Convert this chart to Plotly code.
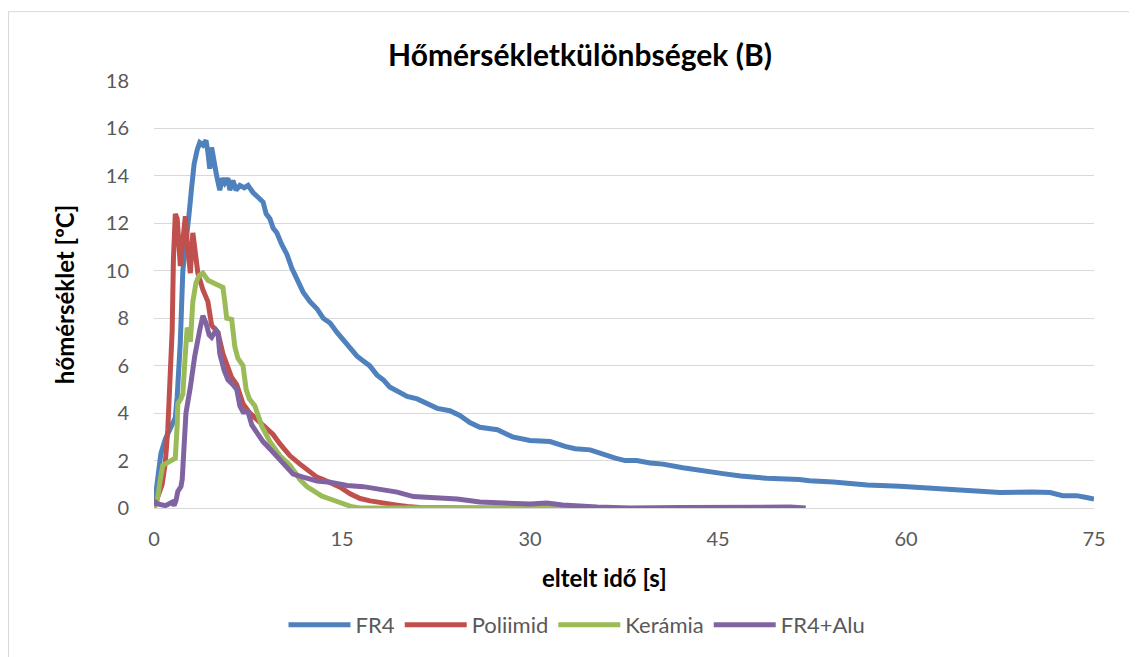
import plotly.graph_objects as go

# ---- data ----
fr4_t = [0, 0.3, 0.55, 0.9, 1.3, 1.7, 1.85, 2.1, 2.3, 2.55, 2.8, 3.0, 3.2, 3.45, 3.65, 3.9, 4.15, 4.3, 4.45, 4.6,
         4.8, 5.0, 5.25, 5.45, 5.65, 5.9, 6.05, 6.3, 6.55, 6.85, 7.2, 7.5, 7.9, 8.3, 8.7, 8.95, 9.25, 9.5, 9.8, 10.2,
         10.6, 11.0, 11.4, 11.9, 12.45, 13.0, 13.5, 14.05, 14.6, 15.1, 15.65, 16.2, 16.7, 17.2, 17.8, 18.3, 18.8,
         19.6, 20.2, 21.0, 21.8, 22.6, 23.6, 24.4, 25.2, 26.0, 27.4, 28.0, 28.6, 30.0, 31.6, 32.8, 33.6, 34.8, 35.8,
         36.8, 37.6, 38.5, 39.6, 40.6, 42.2, 43.8, 45.4, 46.8, 48.9, 51.5, 52.3, 54.2, 56.9, 59.5, 62.2, 64.9, 67.5,
         70.1, 71.5, 72.5, 73.6, 74.3, 75.0]
fr4_v = [0, 1.2, 2.3, 2.9, 3.3, 3.8, 4.7, 7.0, 10.0, 11.5, 12.4, 13.5, 14.5, 15.1, 15.4, 15.3, 15.5, 15.0, 14.3, 15.2,
         14.5, 14.0, 13.4, 13.9, 13.7, 13.9, 13.4, 13.8, 13.4, 13.6, 13.5, 13.6, 13.3, 13.1, 12.9, 12.4, 12.2, 11.8,
         11.6, 11.1, 10.7, 10.1, 9.7, 9.1, 8.7, 8.4, 8.0, 7.8, 7.4, 7.1, 6.7, 6.4, 6.2, 6.0, 5.6, 5.4, 5.1, 4.9, 4.7,
         4.6, 4.4, 4.2, 4.1, 3.9, 3.6, 3.4, 3.3, 3.15, 3.0, 2.85, 2.8, 2.6, 2.5, 2.45, 2.25, 2.1, 2.0, 2.0, 1.9,
         1.85, 1.7, 1.6, 1.45, 1.35, 1.25, 1.2, 1.15, 1.1, 0.97, 0.92, 0.84, 0.75, 0.65, 0.67, 0.65, 0.52, 0.52,
         0.45, 0.38]

poli_t = [0, 0.25, 0.65, 0.9, 1.1, 1.3, 1.45, 1.55, 1.7, 1.85, 2.1, 2.25, 2.5, 2.65, 2.9, 3.1, 3.25, 3.5, 3.9, 4.3,
          4.6, 5.1, 5.5, 5.8, 6.2, 6.6, 7.1, 7.65, 8.15, 8.7, 9.5, 10.05, 10.85, 11.65, 12.2, 13.0, 13.5, 14.3,
          14.85, 15.65, 16.45, 17.25, 18.45, 19.4, 20.2, 21.2, 25.0, 30.0, 33.0]
poli_v = [0.2, 0.4, 1.0, 1.9, 3.3, 5.5, 7.5, 10.5, 12.4, 12.2, 10.2, 11.0, 12.3, 11.2, 9.9, 11.6, 11.0, 9.9, 9.2, 8.7,
          7.7, 7.4, 6.5, 6.1, 5.5, 5.2, 4.4, 4.0, 3.75, 3.5, 3.1, 2.7, 2.2, 1.85, 1.6, 1.3, 1.2, 1.0, 0.88, 0.6, 0.4,
          0.3, 0.18, 0.12, 0.06, 0.02, 0.0, 0.01, 0.0]

ker_t = [0, 0.25, 0.5, 0.7, 1.05, 1.35, 1.7, 1.85, 1.9, 2.15, 2.3, 2.5, 2.65, 2.8, 2.9, 3.1, 3.35, 3.6, 3.9, 4.3, 4.7,
         5.1, 5.5, 5.65, 5.8, 6.2, 6.45, 6.7, 7.1, 7.35, 7.6, 8.05, 8.6, 9.25, 10.05, 10.85, 11.65, 12.2, 12.7, 13.4,
         14.05, 15.1, 15.8, 16.45, 20.0, 25.0, 30.0, 33.0, 36.0]
ker_v = [0, 0.3, 1.2, 1.8, 1.9, 2.0, 2.1, 3.5, 4.4, 4.6, 4.8, 6.5, 7.6, 7.4, 7.0, 8.7, 9.5, 9.8, 9.9, 9.6, 9.5, 9.35,
         9.3, 8.7, 8.0, 7.95, 6.8, 6.3, 6.0, 5.0, 4.6, 4.3, 3.45, 2.8, 2.2, 1.8, 1.2, 0.9, 0.72, 0.5, 0.38, 0.17,
         0.05, 0.0, 0.0, 0.02, 0.03, 0.01, 0.0]

alu_t = [0, 0.1, 0.3, 0.65, 0.9, 1.1, 1.45, 1.6, 1.75, 1.9, 2.15, 2.25, 2.4, 2.55, 2.9, 3.25, 3.65, 3.9, 4.15, 4.4,
         4.6, 4.95, 5.1, 5.25, 5.6, 5.9, 6.3, 6.6, 6.85, 7.1, 7.5, 7.8, 8.05, 8.7, 9.5, 10.3, 11.1, 11.9, 13.0, 14.05,
         15.4, 16.7, 18.0, 19.4, 20.7, 22.0, 24.2, 26.0, 27.4, 28.65, 30.0, 31.35, 32.6, 35.35, 38.0, 42.0, 46.75,
         49.4, 50.75, 52.0]
alu_v = [0.1, 0.25, 0.17, 0.1, 0.1, 0.15, 0.25, 0.1, 0.3, 0.7, 0.9, 1.2, 2.8, 4.0, 5.1, 6.4, 7.5, 8.1, 7.8, 7.3, 7.2,
         7.5, 7.4, 6.5, 5.8, 5.4, 5.2, 5.0, 4.3, 4.05, 4.05, 3.5, 3.3, 2.8, 2.35, 1.85, 1.43, 1.3, 1.14, 1.09, 0.95,
         0.9, 0.8, 0.67, 0.48, 0.46, 0.38, 0.25, 0.22, 0.18, 0.17, 0.21, 0.13, 0.04, 0.0, 0.02, 0.05, 0.08, 0.04, 0.0]

series_names = ["FR4", "Poliimid", "Kerámia", "FR4+Alu"]
series_t = [fr4_t, poli_t, ker_t, alu_t]
series_v = [fr4_v, poli_v, ker_v, alu_v]
colors = ["#4F81BD", "#C0504D", "#9BBB59", "#8064A2"]

x_ticks = [0, 15, 30, 45, 60, 75]
y_ticks = [0, 2, 4, 6, 8, 10, 12, 14, 16, 18]

FONT = "Lato"
OFF = 8  # page body margin
W, H = 1137 - OFF, 657 - OFF
L = 154 - OFF
T = 81 - OFF
R = W - (1094 - OFF)
B = H - (509 - OFF)
pw, ph = W - L - R, H - T - B


def sx(p):  # screen px -> paper x
    return (p - OFF - L) / pw


def sy(p):  # screen px -> paper y
    return (H - B - (p - OFF)) / ph


fig = go.Figure()
for name, t, v, c in zip(series_names, series_t, series_v, colors):
    fig.add_trace(go.Scatter(x=t, y=v, mode="lines", name=name,
                             line=dict(color=c, width=5, shape="linear")))

fig.update_layout(
    width=W, height=H,
    margin=dict(l=L, r=R, t=T, b=B),
    paper_bgcolor="white", plot_bgcolor="white",
    font=dict(family=FONT, color="#595959", size=20),
    title=dict(text="<b>Hőmérsékletkülönbségek (B)</b>", x=(580 - OFF) / W, xref="container",
               y=1 - (55 - OFF) / H, yref="container", xanchor="center", yanchor="middle",
               font=dict(family=FONT, size=30, color="black")),
    xaxis=dict(range=[0, 75], tickvals=x_ticks, showgrid=False, zeroline=False,
               showline=True, linecolor="#D9D9D9", linewidth=1.3, ticks="",
               ticklabelstandoff=13,
               tickfont=dict(size=20, color="#595959")),
    yaxis=dict(range=[0, 18], tickvals=y_ticks, showgrid=True, gridcolor="#D9D9D9", gridwidth=1.3,
               zeroline=False, showline=False, ticks="", ticklabelstandoff=24,
               tickfont=dict(size=20, color="#595959"),
               title=dict(text="<b>hőmérséklet [ºC]</b>", font=dict(size=24, color="black"), standoff=24)),
    legend=dict(orientation="h", x=sx(577), xanchor="center", y=sy(625), yanchor="middle",
                font=dict(size=22, color="#595959"), itemwidth=62, tracegroupgap=0,
                bgcolor="rgba(0,0,0,0)"),
    showlegend=True,
)

# x-axis title (placed as in the reference, slightly left of the plot centre)
fig.add_annotation(text="<b>eltelt idő [s]</b>", xref="paper", yref="paper",
                   x=sx(604), y=sy(579), xanchor="center", yanchor="middle", showarrow=False,
                   font=dict(family=FONT, size=24, color="black"))

fig.add_shape(type="rect", xref="paper", yref="paper",
              x0=sx(OFF + 0.5), x1=sx(1136), y0=sy(670), y1=sy(11.5),
              line=dict(color="#D9D9D9", width=1), fillcolor="rgba(0,0,0,0)", layer="below")

fig.write_html("out.html")
